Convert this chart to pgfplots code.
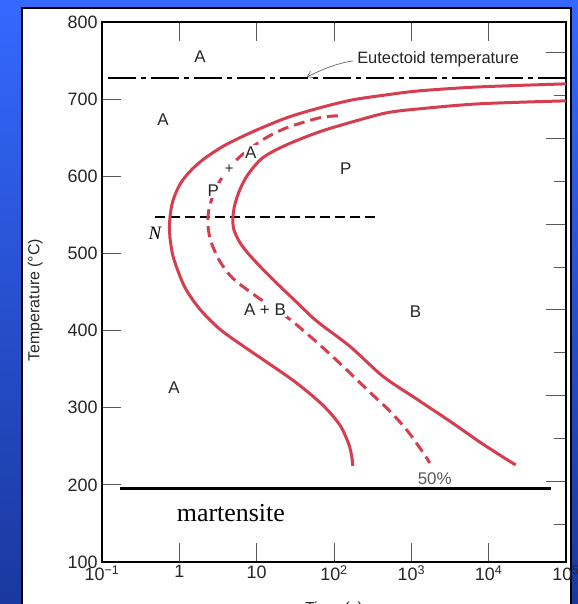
\documentclass[border=0pt]{standalone}
\usepackage{fontspec}
\setmainfont{Liberation Sans}
\newfontfamily\seriffont{Liberation Serif}
\usepackage{pgfplots}
\usepackage{pgfplotstable}
\pgfplotsset{compat=1.18}
\usetikzlibrary{arrows.meta}
\definecolor{ttred}{RGB}{213,62,79}
\definecolor{bgtop}{RGB}{52,104,255}
\definecolor{bgbot}{RGB}{26,56,158}

% time (s), temperature (C)
\pgfplotstableread{
t T
100000 719.8
7660 715.9
1285 710.8
481 705.6
175 699.1
65.6 688.8
24.5 675.9
8.93 657.8
3.88 640.2
2.14 623.4
1.46 609.1
1.08 593.6
0.904 578.9
0.802 563.4
0.757 546.5
0.745 533.6
0.767 515.5
0.851 492.2
1.18 456.0
1.85 427.6
3.35 401.7
7.05 378.4
14.8 356.4
33.0 331.9
71.6 303.4
119 277.6
155 253.0
170 236.2
175 224.5
}\startcurve

\pgfplotstableread{
t T
100000 697.8
7660 694.0
1285 687.5
481 682.3
175 670.7
65.6 657.8
24.5 640.9
12.0 624.1
7.69 602.1
6.07 582.7
5.22 563.3
4.93 546.5
5.07 531.0
6.07 514.2
8.17 497.4
14.8 470.2
33.0 436.6
60.0 412.1
160 379.7
427 340.9
1175 311.2
3133 282.7
7656 255.6
13870 238.8
22340 225.8
}\finishcurve

\pgfplotstableread{
t T
112 678.4
65.6 675.9
24.5 662.9
12.0 647.4
6.07 625.4
4.25 608.6
3.25 591.8
2.72 575.0
2.41 556.9
2.34 537.5
2.56 515.5
3.35 489.6
4.93 467.7
9.48 445.7
17.2 427.6
26.9 414.6
60.0 384.9
130 353.9
290 320.2
526 295.7
873 271.1
1403 242.6
1730 228.4
}\halfcurve

\begin{document}
\begin{tikzpicture}
\begin{scope}
\clip (-102bp,-42bp) rectangle (476bp,562bp);
\fill[top color=bgtop, bottom color=bgbot] (-102bp,-42bp) rectangle (476bp,562bp);
\filldraw[fill=white, draw=black, line width=2bp] (-80bp,-60bp) rectangle (469bp,554bp);

% right-hand (Fahrenheit) ticks, short
\begin{axis}[at={(0,0)}, anchor=south west, scale only axis, width=464bp, height=540bp,
  xmode=log, xmin=0.1, xmax=100000, ymin=100, ymax=800,
  xtick=\empty, xminorticks=false, yminorticks=false,
  ytick={148.9,260,371.1,482.2,593.3,704.4}, yticklabels={},
  ytick pos=right, tick align=inside, major tick length=12bp,
  tick style={black!65, line width=1bp}, axis line style={draw=none}]
\end{axis}
% right-hand (Fahrenheit) ticks, long
\begin{axis}[at={(0,0)}, anchor=south west, scale only axis, width=464bp, height=540bp,
  xmode=log, xmin=0.1, xmax=100000, ymin=100, ymax=800,
  xtick=\empty, xminorticks=false, yminorticks=false,
  ytick={204.4,315.6,426.7,537.8,648.9,760}, yticklabels={},
  ytick pos=right, tick align=inside, major tick length=20bp,
  tick style={black!65, line width=1bp}, axis line style={draw=none}]
\end{axis}

\begin{axis}[at={(0,0)}, anchor=south west, scale only axis, width=464bp, height=540bp,
  xmode=log, xmin=0.1, xmax=100000, ymin=100, ymax=800,
  xtick={0.1,1,10,100,1000,10000,100000},
  xticklabels={10\textsuperscript{−1},1,10,10\textsuperscript{2},10\textsuperscript{3},10\textsuperscript{4},10\textsuperscript{5}},
  ytick={100,200,300,400,500,600,700,800},
  yticklabels={100,200,300,400,500,600,700,800},
  xminorticks=false, yminorticks=false,
  tick align=inside, xtick pos=both, ytick pos=left,
  major tick length=19bp,
  tick style={black!65, line width=1bp},
  axis line style={black, line width=1.5bp},
  ticklabel style={font=\fontsize{18}{20}\selectfont, text=black!85},
  yticklabel style={xshift=-1bp},
  xlabel={Time (s)}, ylabel={Temperature (°C)},
  label style={font=\fontsize{16}{18}\selectfont, text=black!85},
  xlabel style={at={(axis description cs:0.5,-0.0667)}, anchor=north},
  ylabel style={at={(axis description cs:-0.144,0.485)}, anchor=center},
]
% reference lines
\addplot[black, line width=2bp, dash pattern=on 28bp off 5bp on 5bp off 5bp] coordinates {(0.12,727) (100000,727)};
\addplot[black, line width=1.8bp, dash pattern=on 10bp off 5bp] coordinates {(0.484,547) (391,547)};
\addplot[black, line width=2.5bp] coordinates {(0.171,195) (63200,195)};

% transformation curves
\addplot[ttred, line width=3bp, smooth, tension=0.5] table {\startcurve};
\addplot[ttred, line width=3bp, smooth, tension=0.5] table {\finishcurve};
\addplot[ttred, line width=3bp, smooth, tension=0.5, dash pattern=on 11bp off 6bp] table {\halfcurve};

% annotations
\draw[black!60, line width=0.7bp, -{Straight Barb[length=5bp,width=7bp]}] (axis cs:175,749.6) to[out=190,in=25] (axis cs:44.6,728.9);
\node[anchor=west, font=\fontsize{16.5}{18}\selectfont, text=black!85] at (axis cs:180,751.8) {Eutectoid temperature};
\begin{scope}[every node/.style={font=\fontsize{17}{18}\selectfont, text=black!85, inner sep=1.5bp}]
\node at (axis cs:1.85,754.7) {A};
\node at (axis cs:0.614,673.3) {A};
\node[fill=white] at (axis cs:8.41,630.6) {A};
\node[fill=white, font=\fontsize{15}{16}\selectfont] at (axis cs:4.42,608.6) {+};
\node[fill=white] at (axis cs:2.74,581.5) {P};
\node at (axis cs:142,609.5) {P};
\node[fill=white] at (axis cs:12.8,427.6) {A + B};
\node at (axis cs:1130,424) {B};
\node at (axis cs:0.851,326.3) {A};
\node[text=black!65] at (axis cs:2005,207.7) {50\%};
\end{scope}
\node[font=\seriffont\itshape\fontsize{19}{20}\selectfont] at (axis cs:0.484,525.5) {N};
\node[font=\seriffont\fontsize{26}{28}\selectfont] at (axis cs:4.64,164) {martensite};
\end{axis}
\end{scope}
\pgfresetboundingbox
\useasboundingbox (-102bp,-42bp) rectangle (476bp,562bp);
\end{tikzpicture}
\end{document}
